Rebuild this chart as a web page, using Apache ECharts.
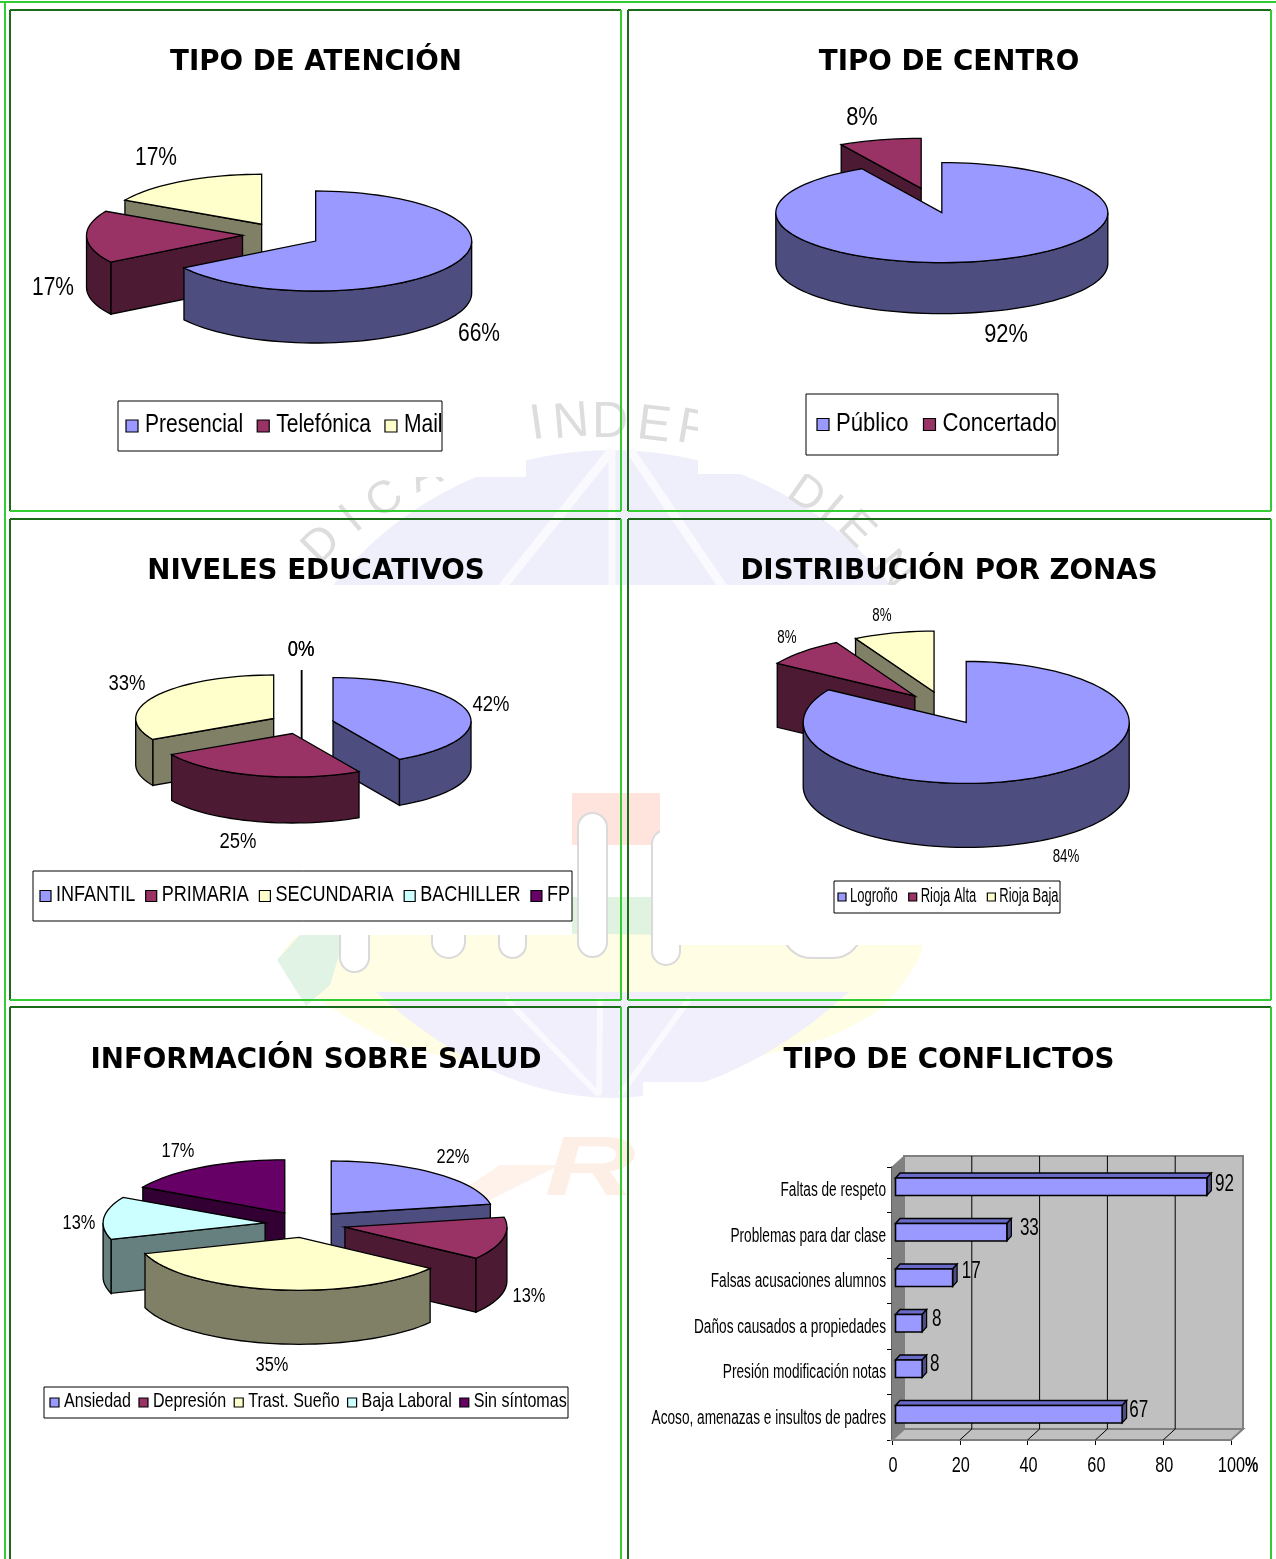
<!DOCTYPE html>
<html>
<head>
<meta charset="utf-8">
<style>html,body{margin:0;padding:0;background:#fff}#main{width:1276px;height:1559px}</style>
<script src="https://cdn.jsdelivr.net/npm/echarts@6/dist/echarts.min.js"></script>
</head>
<body>
<div id="main"></div>
<script>
// datos de cada grafico
var atencionNames = ['Presencial', 'Telefónica', 'Mail'];
var atencionValues = [66, 17, 17];
var centroNames = ['Público', 'Concertado'];
var centroValues = [92, 8];
var nivelesNames = ['INFANTIL', 'PRIMARIA', 'SECUNDARIA', 'BACHILLER', 'FP'];
var nivelesValues = [42, 25, 33, 0, 0];
var zonasNames = ['Logroño', 'Rioja Alta', 'Rioja Baja'];
var zonasValues = [84, 8, 8];
var saludNames = ['Ansiedad', 'Depresión', 'Trast. Sueño', 'Baja Laboral', 'Sin síntomas'];
var saludValues = [22, 13, 35, 13, 17];
var conflictoNames = ['Faltas de respeto', 'Problemas para dar clase', 'Falsas acusaciones alumnos', 'Daños causados a propiedades', 'Presión modificación notas', 'Acoso, amenazas e insultos de padres'];
var conflictoValues = [92, 33, 17, 8, 8, 67];
var xTicks = [0, 20, 40, 60, 80, 100];

var titles = ['TIPO DE ATENCIÓN', 'TIPO DE CENTRO', 'NIVELES EDUCATIVOS', 'DISTRIBUCIÓN POR ZONAS', 'INFORMACIÓN SOBRE SALUD', 'TIPO DE CONFLICTOS'];
var titleX = [316, 949, 316, 949, 316, 949];
var titleY = [49, 49, 558, 558, 1047, 1047];

var topColors = ['#9999FF', '#993366', '#FFFFCC', '#CCFFFF', '#660066'];
var sideColors = ['#4D4D80', '#4D1A33', '#808066', '#668080', '#330033'];
var SANS = '"Liberation Sans",sans-serif';

// texto estrecho: el original esta comprimido en horizontal
function narrowText(text, x, y, size, scale, align, bold) {
    return {
        type: 'text', x: x, y: y, scaleX: scale, silent: true,
        style: { text: text, fill: '#000', font: (bold ? 'bold ' : '') + size + 'px ' + SANS, align: align || 'center', verticalAlign: 'middle' }
    };
}

// dibuja una porcion 3D a partir de su valor
function sliceSeries(pie, i) {
    var total = pie.values.reduce(function (a, b) { return a + b; }, 0);
    var before = pie.values.slice(0, i).reduce(function (a, b) { return a + b; }, 0);
    var a = before / total * 360, b = (before + pie.values[i]) / total * 360;
    var mid = (a + b) / 2 * Math.PI / 180;
    var cx = pie.cx + pie.explode * pie.rx * Math.sin(mid);
    var cy = pie.cy - pie.explode * pie.ry * Math.cos(mid);
    function rim(deg, drop) {
        var t = deg * Math.PI / 180;
        return [cx + pie.rx * Math.sin(t), cy - pie.ry * Math.cos(t) + (drop || 0)];
    }
    function arc(from, to, drop) {
        var pts = [], n = Math.max(2, Math.ceil((to - from) / 3));
        for (var k = 0; k <= n; k++) { pts.push(rim(from + (to - from) * k / n, drop)); }
        return pts;
    }
    function face(points, color) {
        return { type: 'polygon', shape: { points: points }, style: { fill: color, stroke: '#000', lineWidth: 1.3 } };
    }
    function cut(deg, color) {
        return face([[cx, cy], rim(deg), rim(deg, pie.depth), [cx, cy + pie.depth]], color);
    }
    return {
        type: 'custom',
        name: pie.names[i],
        coordinateSystem: 'none',
        itemStyle: { color: topColors[i] },
        data: [[pie.values[i]]],
        sortKey: cy,
        renderItem: function (params, api) {
            var children = [], value = api.value(0);
            if (value === 0) {
                children.push({ type: 'polyline', shape: { points: [rim(a), [cx, cy + pie.depth]] }, style: { fill: null, stroke: '#000', lineWidth: 1.5 } });
            } else {
                if (Math.sin(a * Math.PI / 180) < -0.001) { children.push(cut(a, sideColors[i])); }
                if (Math.sin(b * Math.PI / 180) > 0.001) { children.push(cut(b, sideColors[i])); }
                var w0 = Math.max(a, 90), w1 = Math.min(b, 270);
                if (w1 > w0) {
                    children.push(face(arc(w0, w1).concat(arc(w0, w1, pie.depth).reverse()), sideColors[i]));
                }
                children.push(face([[cx, cy]].concat(arc(a, b)), topColors[i]));
            }
            children.push(narrowText(value + '%', pie.labelAt[i][0], pie.labelAt[i][1], pie.labelSize, pie.labelScale));
            return { type: 'group', children: children };
        }
    };
}

var pies = [
    { names: atencionNames, values: atencionValues, cx: 281.5, cy: 235, rx: 156, ry: 50, depth: 52, explode: 0.25, labelSize: 25, labelScale: 0.84, labelAt: [[479, 334], [53, 288], [156, 158]] },
    { names: centroNames, values: centroValues, cx: 931.5, cy: 200.5, rx: 166, ry: 50, depth: 51, explode: 0.25, labelSize: 26, labelScale: 0.84, labelAt: [[1006, 335], [862, 118]] },
    { names: nivelesNames, values: nivelesValues, cx: 301.6, cy: 723.7, rx: 138, ry: 43.5, depth: 46, explode: 0.235, labelSize: 22, labelScale: 0.84, labelAt: [[491, 705], [238, 842], [127, 684], [301, 650], [301, 650]] },
    { names: zonasNames, values: zonasValues, cx: 945, cy: 708, rx: 163, ry: 61, depth: 64, explode: 0.27, labelSize: 18, labelScale: 0.74, labelAt: [[1066, 857], [787, 638], [882, 616]] },
    { names: saludNames, values: saludValues, cx: 305.4, cy: 1224.2, rx: 162, ry: 53, depth: 54, explode: 0.25, labelSize: 20, labelScale: 0.82, labelAt: [[453, 1157], [529, 1296], [272, 1365], [79, 1223], [178, 1151]] }
];

var pieSeries = [];
pies.forEach(function (pie) {
    var list = pie.values.map(function (v, i) { return sliceSeries(pie, i); });
    list.sort(function (p, q) { return p.sortKey - q.sortKey; });
    pieSeries = pieSeries.concat(list);
});

// leyendas con texto comprimido
var measure = document.createElement('canvas').getContext('2d');
function legendBox(names, box, opt) {
    var kids = [{ type: 'rect', shape: { x: box[0], y: box[1], width: box[2], height: box[3] }, style: { fill: '#fff', stroke: '#000', lineWidth: 1 } }];
    var x = box[0] + opt.pad, yc = box[1] + box[3] / 2 + opt.shift;
    measure.font = opt.size + 'px ' + SANS;
    names.forEach(function (name, i) {
        kids.push({ type: 'rect', shape: { x: x, y: yc - opt.icon / 2 + 1, width: opt.icon, height: opt.icon }, style: { fill: topColors[i], stroke: '#000', lineWidth: 1.2 } });
        x += opt.icon + opt.textGap;
        kids.push(narrowText(name, x, yc, opt.size, opt.scale, 'left'));
        x += measure.measureText(name).width * opt.scale + opt.gap;
    });
    return { type: 'group', z: 1, children: kids };
}
var legends = [
    legendBox(atencionNames, [118, 401, 324, 50], { pad: 8, icon: 12, textGap: 7, size: 25.5, scale: 0.825, gap: 14, shift: -1 }),
    legendBox(centroNames, [806, 394, 252, 61], { pad: 11, icon: 12, textGap: 7, size: 26, scale: 0.85, gap: 15, shift: -1 }),
    legendBox(nivelesNames, [33, 871, 539, 50], { pad: 7, icon: 11, textGap: 5, size: 22, scale: 0.82, gap: 10.5, shift: -1 }),
    legendBox(zonasNames, [834, 881, 226, 32], { pad: 4, icon: 8, textGap: 4, size: 20, scale: 0.65, gap: 11, shift: -1 }),
    legendBox(saludNames, [44, 1387, 524, 31], { pad: 6, icon: 9, textGap: 5, size: 21, scale: 0.765, gap: 8, shift: -1 })
];

// fondo: marca de agua y marcos verdes
function rect(x, y, w, h, fill) {
    return { type: 'rect', shape: { x: x, y: y, width: w, height: h }, style: { fill: fill }, z: -10, silent: true };
}
function blob(points, fill, smooth) {
    return { type: 'polygon', shape: { points: points, smooth: smooth || 0 }, style: { fill: fill }, z: -10, silent: true };
}
// cuenco inferior del logo, como curva muestreada
function bowlPoints() {
    var pts = [], n = 30;
    for (var k = 0; k <= n; k++) {
        var t = k / n, u = 1 - t;
        pts.push([u * u * 376 + 2 * u * t * 612 + t * t * 849, u * u * 992 + 2 * u * t * 1204 + t * t * 992]);
    }
    return pts;
}
function ray(x1, y1, x2, y2, w) {
    return { type: 'line', shape: { x1: x1, y1: y1, x2: x2, y2: y2 }, style: { stroke: '#F9F9FE', lineWidth: w }, z: -10, silent: true };
}
function arch(x, y, w, h) {
    return { type: 'rect', shape: { x: x, y: y, width: w, height: h, r: w / 2 }, style: { fill: '#fff', stroke: '#DADADA', lineWidth: 2 }, z: -10, silent: true };
}
function frameLine(x1, y1, x2, y2, color) {
    return { type: 'line', shape: { x1: x1, y1: y1, x2: x2, y2: y2 }, style: { stroke: color, lineWidth: 2 }, z: -5, silent: true };
}
function wmLetter(t, x, y, rot, size) {
    return { type: 'text', x: x, y: y, rotation: rot * Math.PI / 180, style: { text: t, fill: '#DDDDDD', font: size + 'px ' + SANS, align: 'center', verticalAlign: 'middle' }, z: -10, silent: true };
}
var watermark = [
    { type: 'circle', shape: { cx: 612, cy: 805, r: 355 }, style: { fill: '#EFEEFB' }, z: -10, silent: true },
    ray(612, 450, 500, 590, 9), ray(612, 450, 612, 590, 7), ray(630, 450, 725, 590, 9),
    rect(0, 590, 1276, 640, '#fff'),
    rect(572, 793, 88, 52, '#FEE4DC'),
    rect(572, 897, 88, 48, '#E0F2E0'),
    blob([[300, 935], [920, 945], [885, 1005], [820, 1040], [610, 1085], [400, 1045], [320, 1000], [280, 960]], '#FFFDE3', 0.2),
    blob([[277, 960], [300, 935], [345, 935], [330, 985], [306, 1006]], '#E0F3E4'),
    blob(bowlPoints(), '#F0EFFB'),
    ray(599, 1095, 505, 998, 6), ray(599, 1095, 600, 998, 6), ray(620, 1095, 690, 998, 6),
    arch(578, 813, 29, 144), arch(652, 830, 28, 135), arch(340, 900, 29, 72), arch(432, 900, 33, 58), arch(499, 900, 27, 58), arch(782, 900, 80, 58),
    wmLetter('I', 537, 425, 8, 50), wmLetter('N', 571, 423, 5, 50), wmLetter('D', 610, 423, 0, 50), wmLetter('E', 654, 426, -7, 50), wmLetter('P', 694, 430, -10, 50),
    wmLetter('D', 322, 545, 45, 46), wmLetter('I', 352, 520, 40, 46), wmLetter('C', 385, 500, 35, 46), wmLetter('A', 425, 475, 25, 46),
    wmLetter('D', 806, 495, -35, 46), wmLetter('I', 830, 510, -40, 46), wmLetter('E', 856, 530, -45, 46), wmLetter('N', 893, 570, -50, 46),
    // zonas blancas de las imagenes
    rect(11, 85, 515, 392, '#fff'),
    rect(698, 85, 572, 389, '#fff'),
    rect(11, 585, 561, 350, '#fff'),
    rect(660, 585, 610, 360, '#fff'),
    rect(572, 585, 88, 208, '#fff'),
    { type: 'text', x: 590, y: 1172, scaleX: 1.5, style: { text: 'R', fill: '#FEEFE6', font: 'italic bold 84px ' + SANS, align: 'center', verticalAlign: 'middle' }, z: -10, silent: true },
    blob([[470, 1210], [560, 1165], [500, 1165], [470, 1185]], '#FEF2EA'),
    rect(643, 1082, 627, 477, '#fff')
];
var bright = '#33CC33', dark = '#1B6B1B';
var frames = [
    frameLine(0, 2, 1276, 2, bright), frameLine(5, 2, 5, 1559, bright),
    frameLine(10, 10, 621, 10, dark), frameLine(10, 10, 10, 511, dark), frameLine(621, 10, 621, 511, bright), frameLine(10, 511, 621, 511, bright),
    frameLine(628, 10, 1271, 10, dark), frameLine(628, 10, 628, 511, dark), frameLine(1271, 10, 1271, 511, bright), frameLine(628, 511, 1271, 511, bright),
    frameLine(10, 519, 621, 519, dark), frameLine(10, 519, 10, 1000, dark), frameLine(621, 519, 621, 1000, bright), frameLine(10, 1000, 621, 1000, bright),
    frameLine(628, 519, 1271, 519, dark), frameLine(628, 519, 628, 1000, dark), frameLine(1271, 519, 1271, 1000, bright), frameLine(628, 1000, 1271, 1000, bright),
    frameLine(10, 1007, 621, 1007, dark), frameLine(10, 1007, 10, 1559, dark), frameLine(621, 1007, 621, 1559, bright),
    frameLine(628, 1007, 1271, 1007, dark), frameLine(628, 1007, 628, 1559, dark), frameLine(1271, 1007, 1271, 1559, bright)
];

// barras 3D
var wallDx = 12, wallDy = -11;
var barLabelDx = [13, 18, 14, 10, 8, 12];
var barLabelDy = [-2, -4, -6, -4, -4, -4];

var wallSeries = {
    type: 'custom',
    coordinateSystem: 'cartesian2d',
    silent: true,
    clip: false,
    z: 1,
    data: [[0, 0]],
    renderItem: function (params, api) {
        var cs = params.coordSys, x0 = cs.x, y0 = cs.y, x1 = cs.x + cs.width, y1 = cs.y + cs.height;
        var gray = { fill: '#C0C0C0', stroke: '#808080', lineWidth: 2 };
        var kids = [
            { type: 'polygon', shape: { points: [[x0, y1], [x0 + wallDx, y1 + wallDy], [x1 + wallDx, y1 + wallDy], [x1, y1]] }, style: gray },
            { type: 'polygon', shape: { points: [[x0, y0], [x0 + wallDx, y0 + wallDy], [x0 + wallDx, y1 + wallDy], [x0, y1]] }, style: { fill: '#808080', stroke: '#808080' } },
            { type: 'rect', shape: { x: x0 + wallDx, y: y0 + wallDy, width: cs.width, height: cs.height }, style: gray }
        ];
        xTicks.forEach(function (v) {
            var x = api.coord([v, 0])[0];
            if (v > 0 && v < 100) {
                kids.push({ type: 'polyline', shape: { points: [[x, y1], [x + wallDx, y1 + wallDy], [x + wallDx, y0 + wallDy]] }, style: { fill: null, stroke: '#000', lineWidth: 1 } });
            }
            if (v < 100) {
                kids.push(narrowText(String(v), x + 1, y1 + 26, 22, 0.74));
            } else {
                kids.push(narrowText(String(v), x + 14, y1 + 26, 22, 0.74, 'right'));
                kids.push(narrowText('%', x + 14, y1 + 26, 22, 0.68, 'left', true));
            }
        });
        conflictoNames.forEach(function (name, i) {
            var p = api.coord([0, i]);
            kids.push(narrowText(name, x0 - 6, p[1] + 1, 19.5, 0.7, 'right'));
        });
        return { type: 'group', children: kids };
    }
};

var barSeries = {
    type: 'custom',
    coordinateSystem: 'cartesian2d',
    clip: false,
    z: 2,
    encode: { x: 0, y: 1 },
    data: conflictoValues.map(function (v, i) { return [v, i]; }),
    renderItem: function (params, api) {
        var v = api.value(0), i = api.value(1);
        var end = api.coord([v, i]), start = api.coord([0, i]);
        var band = api.size([0, 1])[1];
        var h = band * 0.385, dx = 4.5, dy = -5;
        var x0 = start[0] + 3.5, x1 = end[0] + 3, yc = end[1] - 3, yt = yc - h / 2, yb = yc + h / 2;
        return {
            type: 'group',
            children: [
                { type: 'polygon', shape: { points: [[x0, yt], [x0 + dx, yt + dy], [x1 + dx, yt + dy], [x1, yt]] }, style: { fill: '#6A6AC8', stroke: '#000', lineWidth: 1.4 } },
                { type: 'polygon', shape: { points: [[x1, yt], [x1 + dx, yt + dy], [x1 + dx, yb + dy], [x1, yb]] }, style: { fill: '#4D4D80', stroke: '#000', lineWidth: 1.2 } },
                { type: 'rect', shape: { x: x0, y: yt, width: x1 - x0, height: h }, style: { fill: '#9999FF', stroke: '#000', lineWidth: 1.6 } },
                narrowText(String(v), x1 + dx + barLabelDx[i], yc + barLabelDy[i], 23, 0.74)
            ]
        };
    }
};

var myChart = echarts.init(document.getElementById('main'), null, { renderer: 'canvas' });
var option = {
    animation: false,
    backgroundColor: '#fff',
    title: titles.map(function (t, i) {
        return { text: t, left: titleX[i], top: titleY[i], textAlign: 'center', padding: 0, textStyle: { fontFamily: '"DejaVu Sans"', fontWeight: 'bold', fontSize: 27.7, color: '#000' } };
    }),
    graphic: { elements: watermark.concat(frames, legends) },
    grid: { left: 892, top: 1167, width: 339, height: 273, containLabel: false },
    xAxis: {
        type: 'value', min: 0, max: 100, interval: 20,
        axisLine: { show: true, lineStyle: { color: '#000', width: 1.5 } },
        axisTick: { show: true, length: 5, lineStyle: { color: '#000' } },
        splitLine: { show: false },
        axisLabel: { show: false }
    },
    yAxis: {
        type: 'category', inverse: true, data: conflictoNames,
        axisLine: { show: true, lineStyle: { color: '#000', width: 1.5 } },
        axisTick: { show: true, length: 5, alignWithLabel: false, lineStyle: { color: '#000' } },
        splitLine: { show: false },
        axisLabel: { show: false }
    },
    series: pieSeries.concat([wallSeries, barSeries])
};
myChart.setOption(option);
</script>
</body>
</html>
